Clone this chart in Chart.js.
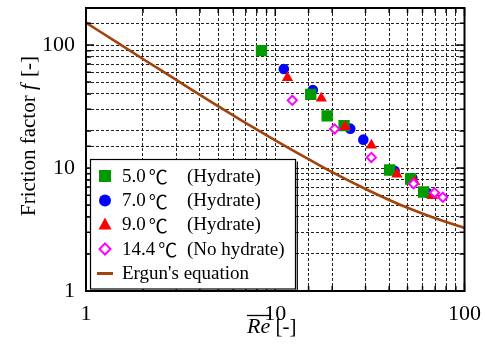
<!DOCTYPE html>
<html>
<head>
<meta charset="utf-8">
<script src="https://cdn.jsdelivr.net/npm/chart.js@4.4.0/dist/chart.umd.min.js"></script>
<style>
html,body{margin:0;padding:0;background:#fff;}
#wrap{position:relative;width:485px;height:346px;}
</style>
</head>
<body>
<div id="wrap"><canvas id="c" width="485" height="346"></canvas></div>
<script>
// ---- data ----
const xTickLabels = [1, 10, 100];
const yTickLabels = [1, 10, 100];

const re50 = [8.46, 15.4, 18.8, 23.1, 40.2, 51.9, 60.8];
const f50  = [89.9, 39.7, 26.5, 22.1, 9.63, 8.14, 6.38];

const re70 = [11.1, 15.8, 24.9, 29.2, 42.7, 53.0, 63.8];
const f70  = [63.8, 43.1, 20.9, 17.0, 9.5, 8.3, 6.26];

const re90 = [11.6, 17.5, 23.4, 32.2, 44.0, 54.5, 67.6];
const f90  = [54.2, 36.9, 21.7, 15.3, 8.89, 7.74, 5.96];

const re144 = [12.3, 20.6, 32.2, 53.8, 69.5, 76.8];
const f144  = [35.5, 20.8, 12.2, 7.45, 6.3, 5.78];

const reErgun = [1, 1.5, 2, 3, 4, 5, 7, 10, 15, 20, 30, 40, 50, 70, 100];
const fErgun  = [152, 102, 77, 52, 39.3, 31.8, 23.2, 16.8, 11.8, 9.25, 6.75, 5.5, 4.75, 3.9, 3.25];

const legendLabels = [
  ["5.0", "\u2103", "(Hydrate)"],
  ["7.0", "\u2103", "(Hydrate)"],
  ["9.0", "\u2103", "(Hydrate)"],
  ["14.4", "\u2103", "(No hydrate)"],
  ["Ergun's equation"]
];

const COL_G = '#009a00', COL_B = '#0000ff', COL_R = '#ff0000', COL_P = '#ff00ff', COL_E = '#a3430c';
const SERIF = "'Liberation Serif', 'Times New Roman', serif";
const DEG = "'Noto Sans CJK JP', 'Liberation Serif', serif";

function pts(xs, ys){ return xs.map((x,i)=>({x:x, y:ys[i]})); }

// ---- plugins ----
const framePlugin = {
  id: 'frame',
  afterDatasetsDraw(chart){
    const {ctx, chartArea:a, scales:{x, y}} = chart;
    ctx.save();
    ctx.strokeStyle = '#000';
    ctx.lineWidth = 1.5;
    // inward ticks
    const isMaj = v => Math.abs(Math.log10(v) - Math.round(Math.log10(v))) < 1e-9;
    x.ticks.forEach(t => {
      const px = x.getPixelForValue(t.value);
      const L = isMaj(t.value) ? 8 : 5;
      ctx.beginPath();
      ctx.moveTo(px, a.bottom); ctx.lineTo(px, a.bottom - L);
      ctx.moveTo(px, a.top); ctx.lineTo(px, a.top + L);
      ctx.stroke();
    });
    y.ticks.forEach(t => {
      const py = y.getPixelForValue(t.value);
      const L = isMaj(t.value) ? 8 : 5;
      ctx.beginPath();
      ctx.moveTo(a.left, py); ctx.lineTo(a.left + L, py);
      ctx.moveTo(a.right, py); ctx.lineTo(a.right - L, py);
      ctx.stroke();
    });
    ctx.lineWidth = 2;
    ctx.strokeRect(a.left, a.top, a.right - a.left, a.bottom - a.top);

    // legend
    const lx = 90.5, ly = 159.5, lw = 205, lh = 129.5;
    ctx.fillStyle = '#fff';
    ctx.fillRect(lx, ly, lw, lh);
    ctx.lineWidth = 1.2;
    ctx.strokeRect(lx, ly, lw, lh);
    ctx.beginPath();
    ctx.moveTo(lx + lw + 1.8, ly + 2); ctx.lineTo(lx + lw + 1.8, lh + ly + 1.8); ctx.lineTo(lx + 2, lh + ly + 1.8);
    ctx.stroke();

    const mx = 105, rows = [176, 200.5, 224.5, 249, 273.5];
    // markers
    ctx.fillStyle = COL_G; ctx.fillRect(mx - 6, rows[0] - 6, 12, 12);
    ctx.fillStyle = COL_B; ctx.beginPath(); ctx.arc(mx, rows[1], 6, 0, Math.PI * 2); ctx.fill();
    ctx.fillStyle = COL_R; ctx.beginPath();
    ctx.moveTo(mx, rows[2] - 7); ctx.lineTo(mx + 6.5, rows[2] + 5); ctx.lineTo(mx - 6.5, rows[2] + 5); ctx.closePath(); ctx.fill();
    ctx.strokeStyle = COL_P; ctx.lineWidth = 2; ctx.beginPath();
    ctx.moveTo(mx, rows[3] - 5.5); ctx.lineTo(mx + 5.5, rows[3]); ctx.lineTo(mx, rows[3] + 5.5); ctx.lineTo(mx - 5.5, rows[3]); ctx.closePath(); ctx.stroke();
    ctx.strokeStyle = COL_E; ctx.lineWidth = 3; ctx.beginPath();
    ctx.moveTo(mx - 8, rows[4]); ctx.lineTo(mx + 8, rows[4]); ctx.stroke();

    // texts
    ctx.fillStyle = '#000';
    ctx.textBaseline = 'middle';
    ctx.textAlign = 'left';
    legendLabels.forEach((lab, i) => {
      let tx = 122;
      const ty = rows[i] + 1;
      ctx.font = "19px " + SERIF;
      ctx.fillText(lab[0], tx, ty);
      if (lab.length > 1) {
        tx += ctx.measureText(lab[0]).width + 3;
        ctx.font = "19px " + DEG;
        ctx.fillText(lab[1], tx, ty);
        tx += ctx.measureText(lab[1]).width + 3;
        tx = Math.max(tx, 187);
        ctx.font = "19px " + SERIF;
        ctx.fillText(lab[2], tx, ty);
      }
    });

    // axis titles
    const it = "italic 21px " + SERIF;
    ctx.save();
    ctx.translate(29, 137);
    ctx.rotate(-Math.PI / 2);
    const p1 = "Friction factor ", p2 = "f", p3 = " [-]";
    ctx.font = "21px " + SERIF; const w1 = ctx.measureText(p1).width, w3 = ctx.measureText(p3).width;
    ctx.font = it; const w2 = ctx.measureText(p2).width;
    let sx = -(w1 + w2 + w3) / 2;
    ctx.font = "21px " + SERIF; ctx.fillText(p1, sx, 0);
    ctx.font = it; ctx.fillText(p2, sx + w1, 0);
    ctx.font = "21px " + SERIF; ctx.fillText(p3, sx + w1 + w2 + 2, 0);
    ctx.restore();
    // x title
    ctx.textBaseline = 'alphabetic';
    ctx.font = "italic 22px " + SERIF;
    const wr = ctx.measureText("Re").width;
    ctx.fillText("Re", 247, 333);
    ctx.font = "21px " + SERIF;
    ctx.fillText(" [-]", 247 + wr, 333);
    ctx.strokeStyle = '#000'; ctx.lineWidth = 1.3;
    ctx.beginPath(); ctx.moveTo(247, 315.5); ctx.lineTo(247 + wr + 1, 315.5); ctx.stroke();
    ctx.restore();
  }
};

const gridStyle = { color: '#222', lineWidth: 1, drawTicks: false };

new Chart(document.getElementById('c'), {
  type: 'scatter',
  data: {
    datasets: [
      { label: '14.4', data: pts(re144, f144), order: 1, pointStyle: 'rectRot', pointRadius: 4.6, pointBorderWidth: 2,
        borderColor: COL_P, backgroundColor: '#fff', pointBackgroundColor: '#fff', pointBorderColor: COL_P },
      { label: '9.0', data: pts(re90, f90), order: 2, pointStyle: 'triangle', pointRadius: 6.5, pointBorderWidth: 0,
        backgroundColor: COL_R, borderColor: COL_R },
      { label: '5.0', data: pts(re50, f50), order: 3, pointStyle: 'rect', pointRadius: 8, pointBorderWidth: 0,
        backgroundColor: COL_G, borderColor: COL_G },
      { label: '7.0', data: pts(re70, f70), order: 4, pointStyle: 'circle', pointRadius: 5.3, pointBorderWidth: 0,
        backgroundColor: COL_B, borderColor: COL_B },
      { label: 'Ergun', type: 'line', data: pts(reErgun, fErgun), order: 5, showLine: true, pointRadius: 0,
        borderColor: COL_E, borderWidth: 2.6, fill: false, tension: 0.3, cubicInterpolationMode: 'monotone' }
    ]
  },
  options: {
    responsive: false,
    animation: false,
    events: [],
    layout: { padding: { top: 8, right: 20.5, left: 0, bottom: 0 } },
    plugins: { legend: { display: false }, tooltip: { enabled: false } },
    scales: {
      x: {
        type: 'logarithmic', min: 1, max: 100,
        grid: gridStyle,
        border: { display: false, dash: [3, 2] },
        ticks: {
          autoSkip: false, maxRotation: 0, padding: 10, color: '#000',
          font: { family: SERIF, size: 22 },
          callback: v => xTickLabels.includes(v) ? String(v) : ''
        },
        afterFit: s => { s.height = 55; s.paddingLeft = 0; s.paddingRight = 0; }
      },
      y: {
        type: 'logarithmic', min: 1, max: 200,
        grid: gridStyle,
        border: { display: false, dash: [3, 2] },
        ticks: {
          autoSkip: false, padding: 11, color: '#000',
          font: { family: SERIF, size: 22 },
          callback: v => yTickLabels.includes(v) ? String(v) : ''
        },
        afterFit: s => { s.width = 86; s.paddingTop = 0; s.paddingBottom = 0; }
      }
    }
  },
  plugins: [framePlugin]
});
</script>
</body>
</html>
